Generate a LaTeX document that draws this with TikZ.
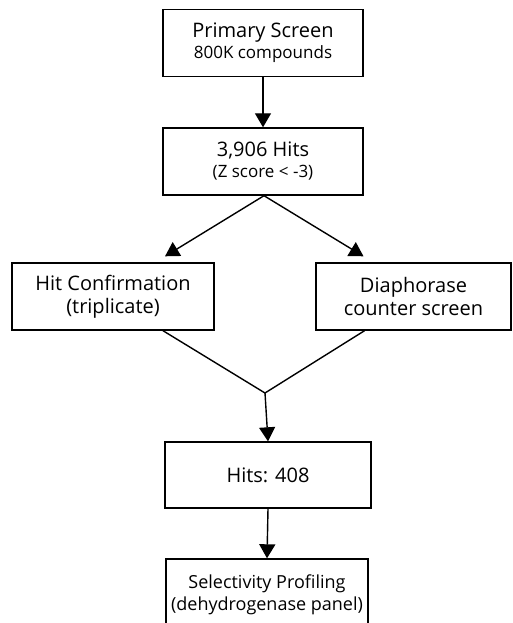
\documentclass[tikz,border=0pt]{standalone}
\usepackage{fontspec}
\setmainfont{Open Sans}
\usepackage{tikz}
\usetikzlibrary{arrows.meta, calc, positioning}
\newcommand{\subtxt}{\fontsize{17}{19}\selectfont}
\tikzset{
	-{Triangle[width=16pt, length=14pt]},
	stage/.style ={rectangle, draw, line width=1.4pt, minimum width=200pt, minimum height=67pt, align=center, inner sep=0pt, font=\fontsize{20}{23}\selectfont},
	sidestage/.style ={stage, minimum width=200pt},
	plain/.style = {-}
}

\begin{document}
\begin{tikzpicture}[x=1pt, y=-1pt, line width=1.4pt]
		\useasboundingbox (0,0) rectangle (512,623);
		\clip (0,0) rectangle (512,623);
		\node[stage] (prim) at (263, 43) {Primary Screen\\[-2pt]{\subtxt 800K compounds}};
		\node[stage] (hits) at (263, 161.5) {3,906 Hits\\[-2pt]{\subtxt (Z score < -3)}};
		\node[sidestage, minimum width=202pt] (conf) at (113, 296.5) {Hit Confirmation\\(triplicate)};
		\node[sidestage, minimum width=195pt] (diaph) at (413.5, 296.5) {Diaphorase\\counter screen};
		\node[stage, minimum width=206pt, minimum height=66pt] (sel) at (268, 475) {Hits: 408};
		\node[stage, minimum width=202pt, minimum height=72pt, font=\fontsize{18}{22}\selectfont] (final) at (267, 595) {Selectivity Profiling\\(dehydrogenase panel)};
		\coordinate (join) at (265, 393);
		
		% Split and merge
		\draw (prim.south) -- (hits.north);
		\draw ([xshift=1pt]hits.south) -- ([xshift=52pt, yshift=6pt]conf.north);
		\draw ([xshift=1pt]hits.south) -- ([xshift=-50pt, yshift=6pt]diaph.north);
		\draw[plain] ([xshift=50pt]conf.south) -- (join) -- ([xshift=-49pt]diaph.south);
		\draw (join) -- (sel.north);
		\draw (sel.south) -- (final.north);
		\end{tikzpicture}
\end{document}
